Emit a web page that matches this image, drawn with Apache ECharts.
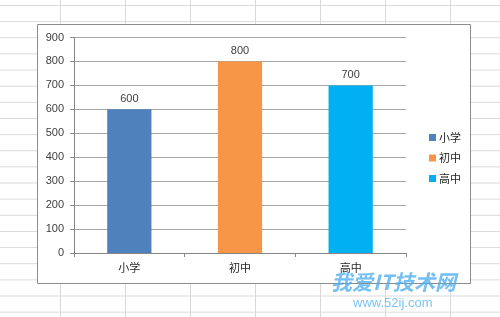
<!DOCTYPE html>
<html>
<head>
<meta charset="utf-8">
<script src="https://cdn.jsdelivr.net/npm/echarts@6/dist/echarts.min.js"></script>
<style>
html, body { margin: 0; padding: 0; }
body {
  width: 500px; height: 317px; overflow: hidden;
  background-color: #ffffff;
  background-image:
    linear-gradient(to right, #d9d9d9 1px, transparent 1px),
    linear-gradient(to bottom, #d9d9d9 1px, transparent 1px);
  background-size: 65px 100%, 100% 16.15px;
  background-position: 60px 0, 0 5px;
}
#chart { width: 500px; height: 317px; }
</style>
</head>
<body>
<div id="chart"></div>
<script>
var categories = ['小学', '初中', '高中'];
var values = [600, 800, 700];
var colors = ['#4F81BD', '#F79646', '#00B0F0'];
var yTicks = { min: 0, max: 900, interval: 100 };

var font = '"Liberation Sans", "Noto Sans CJK SC", sans-serif';
var textColor = '#404040';

var series = categories.map(function (name, i) {
  return {
    name: name,
    type: 'bar',
    stack: 'all',
    barWidth: '40%',
    itemStyle: { color: colors[i] },
    label: {
      show: true, position: 'top', distance: 5,
      fontSize: 11, color: textColor, fontFamily: font
    },
    data: categories.map(function (c, j) { return j === i ? values[i] : '-'; })
  };
});

var chart = echarts.init(document.getElementById('chart'), null, { renderer: 'canvas' });
chart.setOption({
  animation: false,
  backgroundColor: 'transparent',
  graphic: [
    {
      type: 'rect', z: -10, silent: true,
      shape: { x: 37.5, y: 24.5, width: 433, height: 259 },
      style: { fill: '#ffffff', stroke: '#8c8c8c', lineWidth: 1 }
    },
    {
      type: 'text', z: 100, silent: true,
      left: 331, top: 272,
      style: {
        text: '我爱IT技术网', fill: 'rgba(70,170,240,0.75)',
        font: 'italic bold 21px "Noto Sans CJK SC", sans-serif'
      }
    },
    {
      type: 'text', z: 100, silent: true,
      left: 353, top: 297,
      style: {
        text: 'www.52ij.com', fill: 'rgba(80,175,240,0.75)',
        font: '13px "Liberation Sans", sans-serif'
      }
    }
  ],
  grid: { left: 74, right: 94, top: 37.5, bottom: 64, containLabel: false },
  legend: {
    orient: 'vertical',
    left: 424, top: 127,
    itemWidth: 7, itemHeight: 7, itemGap: 9.5,
    icon: 'rect',
    textStyle: { fontSize: 11, lineHeight: 11, color: '#262626', fontFamily: '"Noto Sans CJK SC", sans-serif', padding: [0, 0, 0, -2] },
    data: categories
  },
  xAxis: {
    type: 'category',
    data: categories,
    axisLine: { show: true, lineStyle: { color: '#868686', width: 1 } },
    axisTick: { show: true, alignWithLabel: false, length: 4, lineStyle: { color: '#868686' } },
    axisLabel: { margin: 9, fontSize: 11, color: '#262626', fontFamily: '"Noto Sans CJK SC", sans-serif' },
    splitLine: { show: false }
  },
  yAxis: {
    type: 'value',
    min: yTicks.min, max: yTicks.max, interval: yTicks.interval,
    axisLine: { show: true, lineStyle: { color: '#868686', width: 1 } },
    axisTick: { show: true, length: 4, lineStyle: { color: '#868686' } },
    axisLabel: { margin: 10, fontSize: 11, color: textColor, fontFamily: font },
    splitLine: { show: true, lineStyle: { color: '#a6a6a6', width: 1 } }
  },
  series: series
});
</script>
</body>
</html>
